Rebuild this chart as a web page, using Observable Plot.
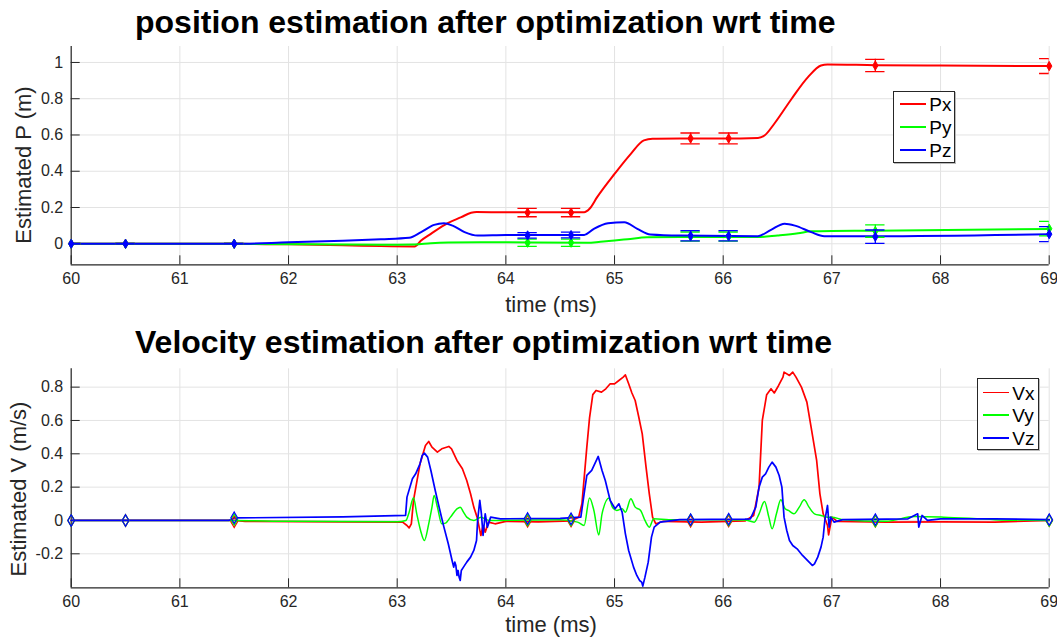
<!DOCTYPE html>
<html><head><meta charset="utf-8">
<script src="https://cdn.jsdelivr.net/npm/d3@7"></script>
<script src="https://cdn.jsdelivr.net/npm/@observablehq/plot@0.6"></script>
<style>
body{margin:0;background:#fff;}
#wrap{position:relative;width:1057px;height:642px;font-family:"Liberation Sans",Arial,Helvetica,sans-serif;overflow:hidden;background:#fff;}
.panel{position:absolute;left:0;}
.title{position:absolute;font-weight:bold;font-size:32px;color:#000;white-space:nowrap;line-height:1;}
.xlab,.ylab{position:absolute;font-size:22px;color:#262626;white-space:nowrap;line-height:1;transform:translate(-50%,-50%);}
.ylab{transform:translate(-50%,-50%) rotate(-90deg);}
.legend{position:absolute;box-sizing:border-box;border:1px solid #262626;background:#fff;box-shadow:1px 1px 0 #bbb;}
.legend .ln{position:absolute;}
.legend .tx{position:absolute;font-size:19px;color:#000;line-height:1;transform:translateY(-50%);}
</style>
</head><body>
<div id="wrap"></div>
<script>
// ---------- data ----------
const xTicks = [60, 61, 62, 63, 64, 65, 66, 67, 68, 69];
const xDomain = [60, 69];
const pTicks = [0, 0.2, 0.4, 0.6, 0.8, 1];
const pDomain = [-0.116, 1.088];
const vTicks = [-0.2, 0, 0.2, 0.4, 0.6, 0.8];
const vDomain = [-0.404, 0.91];

const Px = [[60,0],[61.5,0],[62,-0.003],[62.5,-0.008],[62.85,-0.013],[63.16,-0.015],[63.22,0.018],[63.31,0.055],[63.465,0.114],[63.59,0.147],[63.68,0.171],[63.73,0.175],[64.0,0.174],[64.72,0.174],[64.77,0.193],[64.84,0.257],[65.0,0.385],[65.15,0.496],[65.27,0.57],[65.35,0.579],[65.6,0.58],[66.0,0.58],[66.32,0.584],[66.38,0.597],[66.47,0.662],[66.63,0.8],[66.78,0.919],[66.9,0.983],[66.96,0.989],[67.4,0.985],[68.0,0.983],[69,0.98]];
const Py = [[60,0],[61.5,0],[62.85,-0.006],[63.16,-0.004],[63.31,0.003],[63.47,0.007],[63.77,0.009],[64.75,0.005],[64.87,0.011],[65.0,0.018],[65.12,0.025],[65.3,0.036],[65.61,0.038],[66.32,0.037],[66.5,0.046],[66.69,0.058],[66.81,0.069],[67.0,0.071],[67.4,0.072],[69,0.082]];
const Pz = [[60,0],[61.5,0],[62,0.008],[62.5,0.017],[62.85,0.025],[63.11,0.033],[63.22,0.064],[63.34,0.104],[63.43,0.113],[63.51,0.1],[63.62,0.064],[63.74,0.045],[64.0,0.048],[64.72,0.049],[64.81,0.082],[64.94,0.113],[65.09,0.119],[65.21,0.082],[65.33,0.051],[65.61,0.045],[66.32,0.042],[66.44,0.077],[66.565,0.11],[66.66,0.1],[66.81,0.064],[66.93,0.042],[67.4,0.042],[69,0.053]];

const obsT = [60, 60.5, 61.5, 64.2, 64.6, 65.7, 66.05, 67.4, 69];
const PxObs = [0, 0, 0, 0.172, 0.172, 0.581, 0.581, 0.983, 0.98];
const PxErr = [0.002, 0.002, 0.002, 0.023, 0.023, 0.03, 0.03, 0.034, 0.041];
const PyObs = [0, 0, 0, 0.006, 0.006, 0.04, 0.04, 0.07, 0.083];
const PyErr = [0.002, 0.002, 0.002, 0.02, 0.02, 0.025, 0.025, 0.034, 0.04];
const PzObs = [0, 0, 0, 0.046, 0.048, 0.044, 0.044, 0.039, 0.053];
const PzErr = [0.002, 0.002, 0.002, 0.015, 0.016, 0.028, 0.028, 0.037, 0.041];

const Vx = [[60,0],[61.5,0],[61.6,-0.005],[62.5,-0.008],[63.05,-0.01],[63.09,-0.03],[63.11,-0.045],[63.13,-0.02],[63.15,0.12],[63.21,0.34],[63.26,0.45],[63.29,0.474],[63.32,0.44],[63.37,0.41],[63.41,0.43],[63.475,0.444],[63.5,0.43],[63.55,0.36],[63.6,0.31],[63.64,0.24],[63.675,0.16],[63.705,0.08],[63.735,0.02],[63.77,-0.09],[63.79,-0.03],[63.81,-0.07],[63.84,-0.01],[63.9,-0.02],[64.0,-0.005],[64.3,-0.008],[64.6,-0.003],[64.67,0.02],[64.7,0.1],[64.745,0.44],[64.77,0.616],[64.8,0.755],[64.83,0.78],[64.88,0.77],[64.92,0.79],[64.96,0.82],[65.0,0.82],[65.04,0.84],[65.08,0.86],[65.1,0.873],[65.13,0.82],[65.16,0.765],[65.19,0.72],[65.22,0.63],[65.255,0.52],[65.29,0.32],[65.32,0.16],[65.35,0.02],[65.38,-0.02],[65.45,-0.005],[65.8,-0.01],[66.2,-0.003],[66.28,0.03],[66.33,0.2],[66.36,0.6],[66.4,0.755],[66.44,0.79],[66.47,0.765],[66.51,0.81],[66.55,0.86],[66.56,0.89],[66.61,0.87],[66.64,0.89],[66.67,0.86],[66.72,0.8],[66.77,0.71],[66.81,0.556],[66.86,0.36],[66.89,0.16],[66.92,0.04],[66.96,-0.03],[66.97,-0.087],[67.0,0.02],[67.05,-0.005],[67.5,-0.01],[68.0,-0.008],[68.5,-0.01],[69,0]];
const Vy = [[60,0],[61.5,0],[62,-0.005],[63.0,-0.008],[63.08,0],[63.11,0.05],[63.15,0.136],[63.18,0.04],[63.215,-0.06],[63.25,-0.12],[63.29,-0.02],[63.32,0.08],[63.34,0.15],[63.37,0.08],[63.41,-0.02],[63.445,-0.016],[63.49,0.02],[63.55,0.07],[63.58,0.08],[63.61,0.05],[63.64,0.02],[63.705,0],[63.77,0.02],[63.85,0],[64.5,0.005],[64.66,-0.01],[64.72,-0.03],[64.77,0.135],[64.81,0.06],[64.855,-0.087],[64.885,0.04],[64.95,0.135],[64.98,0.08],[65.02,0.06],[65.07,0.07],[65.1,0.05],[65.15,0.13],[65.19,0.08],[65.24,0.06],[65.28,0],[65.32,-0.04],[65.36,0.01],[65.5,0.005],[66.2,0.003],[66.285,-0.01],[66.33,0.04],[66.38,0.114],[66.42,0.02],[66.45,-0.05],[66.49,0.04],[66.53,0.124],[66.57,0.07],[66.6,0.06],[66.65,0.04],[66.7,0.08],[66.745,0.124],[66.79,0.08],[66.84,0.04],[66.9,0.03],[66.96,0.02],[67.0,0.02],[67.1,0.005],[67.5,-0.005],[67.76,0.024],[68.03,0.02],[68.5,0.005],[69,0]];
const Vz = [[60,0],[61.45,0],[61.5,0.015],[62.5,0.022],[63.077,0.03],[63.09,0.14],[63.14,0.25],[63.17,0.28],[63.21,0.34],[63.23,0.39],[63.25,0.404],[63.28,0.38],[63.31,0.3],[63.35,0.18],[63.4,0.04],[63.43,-0.04],[63.47,-0.14],[63.505,-0.24],[63.52,-0.28],[63.53,-0.25],[63.54,-0.27],[63.55,-0.33],[63.56,-0.3],[63.57,-0.34],[63.58,-0.36],[63.59,-0.3],[63.61,-0.28],[63.64,-0.25],[63.675,-0.22],[63.705,-0.18],[63.73,-0.12],[63.74,0],[63.76,0.12],[63.775,0.04],[63.79,-0.09],[63.81,0.04],[63.83,-0.04],[63.86,0.02],[63.95,0.01],[64.5,0.012],[64.69,0.02],[64.72,0.16],[64.745,0.27],[64.79,0.3],[64.85,0.384],[64.885,0.3],[64.915,0.24],[64.96,0.12],[65.005,0.07],[65.04,0.1],[65.07,0.05],[65.1,-0.08],[65.13,-0.18],[65.175,-0.28],[65.205,-0.33],[65.23,-0.36],[65.25,-0.37],[65.26,-0.394],[65.28,-0.34],[65.31,-0.25],[65.34,-0.1],[65.365,-0.04],[65.42,-0.01],[65.6,0.005],[66.2,0.008],[66.25,0.01],[66.3,0.08],[66.33,0.2],[66.36,0.26],[66.39,0.28],[66.42,0.32],[66.45,0.35],[66.485,0.32],[66.515,0.27],[66.54,0.2],[66.56,0.02],[66.585,-0.06],[66.61,-0.12],[66.64,-0.15],[66.68,-0.17],[66.73,-0.21],[66.775,-0.24],[66.82,-0.27],[66.84,-0.26],[66.87,-0.22],[66.9,-0.16],[66.92,-0.1],[66.935,0],[66.96,0.09],[66.975,-0.04],[66.99,0.02],[67.02,-0.01],[67.1,0.005],[67.7,0.01],[67.79,0.04],[67.8,-0.04],[67.83,0.03],[67.88,0],[68.0,0.01],[68.5,0.01],[69,0.005]];

const VxObs = [0, 0, -0.008, -0.005, -0.003, -0.005, -0.003, -0.005, 0];
const VyObs = [0, 0, 0.005, 0.003, 0.003, 0.003, 0.003, -0.003, 0];
const VzObs = [0, 0, 0.016, 0.012, 0.01, 0.005, 0.008, 0.005, 0.005];

const seriesP = ["Px", "Py", "Pz"];
const seriesV = ["Vx", "Vy", "Vz"];
const colors = ["#ff0000", "#00ff00", "#0000ff"];

// ---------- helpers ----------
const rows = (pairs) => pairs.map(([t, v]) => ({t, v}));
const obsRows = (vals, errs) => obsT.map((t, i) => ({t, v: vals[i], e: errs ? errs[i] : 0}));
const capHalf = 0.089;
const ink = "#262626";
const gridColor = "#e3e3e3";
const W = 1057;

function frameMarks(yTicks, yDomain, fmt) {
  return [
    Plot.gridX(xTicks, {stroke: gridColor, strokeOpacity: 1}),
    Plot.gridY(yTicks, {stroke: gridColor, strokeOpacity: 1}),
    Plot.axisX(xTicks, {tickSize: -9, tickPadding: 17, label: null, fontSize: 16, tickFormat: d => String(d)}),
    Plot.axisY(yTicks, {anchor: "left", tickSize: -9, tickPadding: 17, label: null, fontSize: 16, tickFormat: fmt}),
    Plot.ruleX([xDomain[0]], {stroke: ink, strokeWidth: 1.2}),
    Plot.ruleY([yDomain[0]], {stroke: ink, strokeWidth: 1.2})
  ];
}
const numFmt = d => (Math.abs(d) < 1e-9 ? "0" : String(+d.toFixed(1)));

// ---------- position plot ----------
const posObs = [obsRows(PxObs, PxErr), obsRows(PyObs, PyErr), obsRows(PzObs, PzErr)];
const posLines = [rows(Px), rows(Py), rows(Pz)];
const posMarks = [...frameMarks(pTicks, pDomain, numFmt)];
[0, 1, 2].forEach(i => {
  posMarks.push(Plot.line(posLines[i], {x: "t", y: "v", stroke: colors[i], strokeWidth: 2, curve: "monotone-x"}));
});
[0, 1, 2].forEach(i => {
  const d = posObs[i];
  posMarks.push(
    Plot.ruleX(d, {x: "t", y1: r => r.v - r.e, y2: r => r.v + r.e, stroke: colors[i], strokeWidth: 1.3, clip: true}),
    Plot.ruleY(d, {y: r => r.v + r.e, x1: r => r.t - capHalf, x2: r => r.t + capHalf, stroke: colors[i], strokeWidth: 1.3, clip: true}),
    Plot.ruleY(d, {y: r => r.v - r.e, x1: r => r.t - capHalf, x2: r => r.t + capHalf, stroke: colors[i], strokeWidth: 1.3, clip: true}),
    Plot.dot(d, {x: "t", y: "v", symbol: "diamond", r: 2.8, fill: colors[i], stroke: colors[i], strokeWidth: 1})
  );
});
const posPlot = Plot.plot({
  width: W, height: 320,
  marginTop: 46, marginBottom: 55.7, marginLeft: 70.7, marginRight: 8.3,
  style: {fontFamily: '"Liberation Sans", Arial, sans-serif', color: ink, background: "white", overflow: "visible"},
  x: {domain: xDomain},
  y: {domain: pDomain},
  marks: posMarks
});

// ---------- velocity plot ----------
const velLines = [rows(Vx), rows(Vy), rows(Vz)];
const velObs = [obsRows(VxObs), obsRows(VyObs), obsRows(VzObs)];
const velMarks = [...frameMarks(vTicks, vDomain, numFmt)];
const velCurves = ["linear", "monotone-x", "linear"];
const velWidths = [1.7, 1.5, 1.7];
[0, 1, 2].forEach(i => {
  velMarks.push(Plot.line(velLines[i], {x: "t", y: "v", stroke: colors[i], strokeWidth: velWidths[i], curve: velCurves[i]}));
});
[0, 1, 2].forEach(i => {
  velMarks.push(Plot.dot(velObs[i], {x: "t", y: "v", symbol: "diamond", r: 3.5, fill: "none", stroke: colors[i], strokeWidth: 1.2}));
});
const velPlot = Plot.plot({
  width: W, height: 322,
  marginTop: 48.3, marginBottom: 54.7, marginLeft: 70.7, marginRight: 8.3,
  style: {fontFamily: '"Liberation Sans", Arial, sans-serif', color: ink, background: "white", overflow: "visible"},
  x: {domain: xDomain},
  y: {domain: vDomain},
  marks: velMarks
});

// ---------- layout ----------
const wrap = document.getElementById("wrap");
function place(el, top) { el.classList.add("panel"); el.style.top = top + "px"; wrap.appendChild(el); }
place(posPlot, 0);
place(velPlot, 320);

function addDiv(cls, text, css) {
  const d = document.createElement("div");
  d.className = cls; d.textContent = text;
  Object.assign(d.style, css);
  wrap.appendChild(d);
  return d;
}
addDiv("title", "position estimation after optimization wrt time", {left: "135px", top: "5.9px"});
addDiv("title", "Velocity estimation after optimization wrt time", {left: "135px", top: "325.9px"});
addDiv("xlab", "time (ms)", {left: "551px", top: "305px"});
addDiv("xlab", "time (ms)", {left: "551px", top: "625px"});
addDiv("ylab", "Estimated P (m)", {left: "23.7px", top: "165px"});
addDiv("ylab", "Estimated V (m/s)", {left: "19px", top: "489px"});

function legend(names, box, lineW, lineThick) {
  const lg = document.createElement("div");
  lg.className = "legend";
  Object.assign(lg.style, {left: box.left + "px", top: box.top + "px", width: box.w + "px", height: box.h + "px"});
  names.forEach((n, i) => {
    const y = box.ys[i];
    const ln = document.createElement("div");
    ln.className = "ln";
    Object.assign(ln.style, {left: box.lx + "px", width: lineW + "px", top: (y - lineThick / 2) + "px", height: lineThick + "px", background: colors[i]});
    lg.appendChild(ln);
    const tx = document.createElement("div");
    tx.className = "tx"; tx.textContent = n;
    Object.assign(tx.style, {left: box.tx + "px", top: y + "px"});
    lg.appendChild(tx);
  });
  wrap.appendChild(lg);
}
legend(seriesP, {left: 893, top: 91, w: 62, h: 72, lx: 5.7, tx: 35.3, ys: [12.3, 35.3, 58]}, 26, 2);
legend(seriesV, {left: 977, top: 378, w: 62, h: 72, lx: 4.7, tx: 34.3, ys: [13.7, 36, 59]}, 26.6, 1.3);
</script>
</body></html>
